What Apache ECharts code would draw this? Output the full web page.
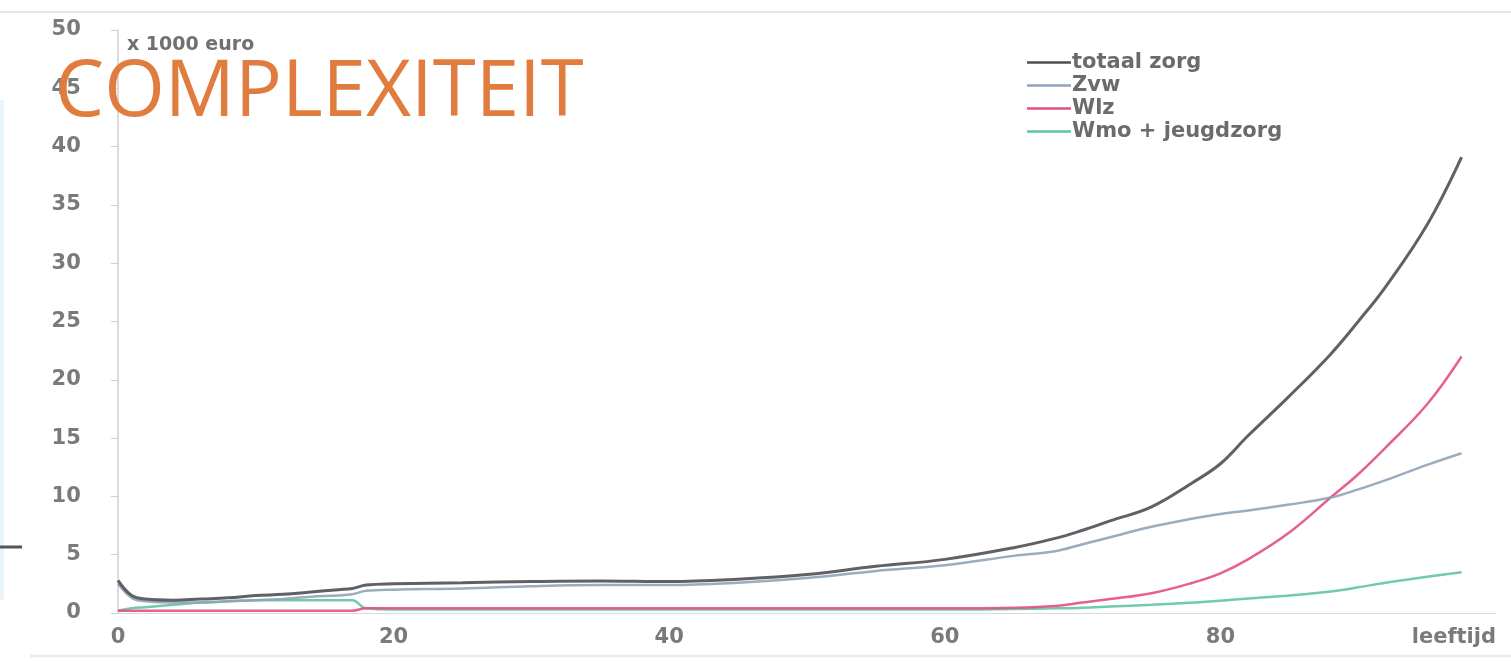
<!DOCTYPE html>
<html>
<head>
<meta charset="utf-8">
<title>Complexiteit</title>
<script src="https://cdn.jsdelivr.net/npm/echarts@6/dist/echarts.min.js"></script>
<style>
  html, body { margin: 0; padding: 0; background: #fff; }
  #grafico { width: 1511px; height: 662px; }
</style>
</head>
<body>
<div id="grafico"></div>
<script>
// leeftijd (jaren)
const leeftijden = [0, 1, 2, 4, 6, 8, 10, 12, 14, 16, 17, 18, 20, 25, 30, 35, 40, 45, 50, 55, 60, 65, 68, 70, 72, 75, 78, 80, 82, 85, 88, 90, 92, 95, 97.5];

// kosten x 1000 euro
const totaalZorg = [2.8, 1.5, 1.2, 1.1, 1.2, 1.3, 1.5, 1.6, 1.8, 2.0, 2.1, 2.4, 2.5, 2.6, 2.7, 2.75, 2.7, 2.9, 3.3, 4.0, 4.6, 5.6, 6.4, 7.1, 7.9, 9.1, 11.2, 12.8, 15.2, 18.6, 22.2, 25.0, 28.0, 33.3, 39.1];
const zvw        = [2.5, 1.3, 1.0, 0.9, 0.9, 1.0, 1.1, 1.2, 1.4, 1.5, 1.6, 1.9, 2.0, 2.1, 2.3, 2.4, 2.4, 2.6, 3.0, 3.6, 4.1, 4.9, 5.3, 5.9, 6.5, 7.4, 8.1, 8.5, 8.8, 9.3, 9.9, 10.6, 11.4, 12.7, 13.7];
const wlz        = [0.2, 0.2, 0.2, 0.2, 0.2, 0.2, 0.2, 0.2, 0.2, 0.2, 0.2, 0.4, 0.4, 0.4, 0.4, 0.4, 0.4, 0.4, 0.4, 0.4, 0.4, 0.45, 0.6, 0.9, 1.2, 1.7, 2.6, 3.4, 4.6, 6.9, 9.9, 11.9, 14.2, 17.9, 22.0];
const wmoJeugd   = [0.2, 0.4, 0.5, 0.7, 0.9, 1.0, 1.1, 1.1, 1.1, 1.1, 1.1, 0.4, 0.3, 0.3, 0.3, 0.3, 0.3, 0.3, 0.3, 0.3, 0.3, 0.35, 0.4, 0.45, 0.55, 0.7, 0.9, 1.05, 1.25, 1.5, 1.85, 2.2, 2.6, 3.1, 3.5];

const reeksNamen = ['totaal zorg', 'Zvw', 'Wlz', 'Wmo + jeugdzorg'];
const reeksWaarden = [totaalZorg, zvw, wlz, wmoJeugd];
const kleuren = ['#4f4f55', '#8fa3b8', '#e2507f', '#63c4a4'];

const fontLabels = "'DejaVu Sans', sans-serif";

const dom = document.getElementById('grafico');
const myChart = echarts.init(dom);

const series = reeksNamen.map((naam, i) => ({
  name: naam,
  type: 'line',
  smooth: 0.4,
  symbol: 'none',
  z: i === 0 ? 5 : 3,
  lineStyle: { width: i === 0 ? 3 : 2.5, color: kleuren[i], opacity: 0.9 },
  itemStyle: { color: kleuren[i] },
  data: leeftijden.map((l, j) => [l, reeksWaarden[i][j]])
})).reverse();

const option = {
  backgroundColor: '#fff',
  animation: false,
  title: {
    text: 'COMPLEXITEIT',
    left: 50,
    top: 50,
    textStyle: {
      fontFamily: "'Open Sans', sans-serif",
      fontSize: 78,
      fontWeight: 'normal',
      color: '#e07c3e'
    }
  },
  legend: {
    orient: 'vertical',
    left: 1022,
    top: 46,
    icon: 'rect',
    itemWidth: 44,
    itemHeight: 2.5,
    itemGap: 0,
    data: reeksNamen,
    textStyle: {
      fontFamily: fontLabels,
      fontSize: 21,
      fontWeight: 'bold',
      color: '#6b6b6b',
      lineHeight: 23,
      padding: [0, 0, 0, -4]
    }
  },
  grid: { left: 118, right: 15, top: 30, bottom: 49 },
  xAxis: {
    type: 'value',
    min: 0,
    max: 100,
    interval: 20,
    axisLine: { show: true, lineStyle: { color: '#d9d9d9', width: 1 } },
    axisTick: { show: false },
    splitLine: { show: false },
    axisLabel: {
      margin: 14,
      fontFamily: fontLabels,
      fontSize: 21,
      fontWeight: 'bold',
      color: '#7a7a7a',
      alignMaxLabel: 'right',
      formatter: v => (v === 100 ? 'leeftijd' : v)
    }
  },
  yAxis: {
    type: 'value',
    min: 0,
    max: 50,
    interval: 5,
    name: 'x 1000 euro',
    nameLocation: 'end',
    nameGap: -15,
    nameTextStyle: {
      fontFamily: fontLabels,
      fontSize: 19,
      fontWeight: 'bold',
      color: '#707070',
      align: 'left',
      verticalAlign: 'middle',
      padding: [0, 0, 0, 9]
    },
    axisLine: { show: true, lineStyle: { color: '#d4cdd2', width: 1.5 } },
    axisTick: { show: true, length: 7, lineStyle: { color: '#d4cdd2' } },
    splitLine: { show: false },
    axisLabel: {
      fontFamily: fontLabels,
      fontSize: 21,
      fontWeight: 'bold',
      color: '#7a7a7a',
      // spaties achter het getal schuiven de labels verder van de as
      formatter: v => v + '    '
    }
  },
  graphic: [
    { type: 'line', shape: { x1: 0, y1: 12, x2: 1511, y2: 12 }, style: { stroke: '#e4e4e4', lineWidth: 2 } },
    { type: 'line', shape: { x1: 30, y1: 656, x2: 1511, y2: 656 }, style: { stroke: '#ececec', lineWidth: 3 } },
    { type: 'line', shape: { x1: 2, y1: 100, x2: 2, y2: 600 }, style: { stroke: '#eaf4fb', lineWidth: 4 } },
    { type: 'line', shape: { x1: 0, y1: 547, x2: 22, y2: 547 }, style: { stroke: '#555', lineWidth: 3 } }
  ],
  series: series
};

myChart.setOption(option);
</script>
</body>
</html>
